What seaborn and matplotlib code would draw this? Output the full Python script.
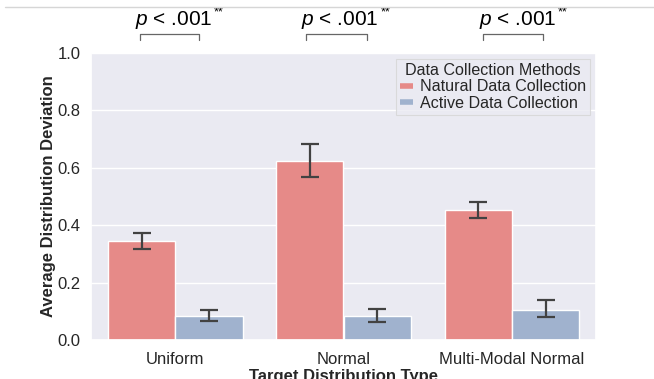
import matplotlib
matplotlib.use("Agg")
import matplotlib.pyplot as plt
from matplotlib.lines import Line2D
import seaborn as sns
import pandas as pd
import numpy as np

# ---- data ----
categories = ["Uniform", "Normal", "Multi-Modal Normal"]
methods = ["Natural Data Collection", "Active Data Collection"]
natural_mean = [0.345, 0.624, 0.452]
natural_lo = [0.318, 0.569, 0.426]
natural_hi = [0.372, 0.684, 0.482]
active_mean = [0.082, 0.085, 0.105]
active_lo = [0.067, 0.064, 0.079]
active_hi = [0.104, 0.109, 0.138]
p_main = ["p < .001", "p < .001", "p < .001"]
p_stars = ["**", "**", "**"]

colors = ["#E68A88", "#A0B2CE"]

sns.set_theme(style="darkgrid")
plt.rcParams["font.family"] = ["Liberation Sans", "DejaVu Sans"]
plt.rcParams["mathtext.fontset"] = "custom"
plt.rcParams["mathtext.rm"] = "Liberation Sans"
plt.rcParams["mathtext.it"] = "Liberation Sans:italic"
plt.rcParams["mathtext.bf"] = "Liberation Sans:bold"

df = pd.DataFrame({
    "Target Distribution Type": categories * 2,
    "Method": [methods[0]] * 3 + [methods[1]] * 3,
    "value": natural_mean + active_mean,
    "lo": natural_lo + active_lo,
    "hi": natural_hi + active_hi,
})

fig = plt.figure(figsize=(6.54, 3.79), dpi=100)
ax = fig.add_axes([91 / 654, 39 / 379, 505 / 654, 287 / 379])

sns.barplot(data=df, x="Target Distribution Type", y="value", hue="Method",
            hue_order=methods, order=categories, palette=colors,
            saturation=1, errorbar=None, ax=ax, legend=False)

# error bars from bar geometry
bars = [p for p in ax.patches if p.get_height() > 0]
for m_i, m in enumerate(methods):
    sub = df[df["Method"] == m].set_index("Target Distribution Type").loc[categories]
    for c_i, c in enumerate(categories):
        bar = bars[m_i * len(categories) + c_i]
        xc = bar.get_x() + bar.get_width() / 2
        v = sub.loc[c, "value"]
        ax.errorbar([xc], [v], yerr=[[v - sub.loc[c, "lo"]], [sub.loc[c, "hi"] - v]],
                    fmt="none", ecolor="#424242", elinewidth=1.6, capsize=6.5,
                    capthick=1.6, zorder=5)

ax.set_ylim(0, 1.0)
ax.set_xlim(-0.5, 2.5)
ax.set_yticks([0, 0.2, 0.4, 0.6, 0.8, 1.0])
ax.set_yticklabels(["0.0", "0.2", "0.4", "0.6", "0.8", "1.0"])
ax.tick_params(axis="x", labelsize=12, pad=3)
ax.tick_params(axis="y", labelsize=12, pad=1.5)
ax.set_ylabel("Average Distribution Deviation", fontsize=12, fontweight="bold", labelpad=1)
ax.set_xlabel("Target Distribution Type", fontsize=12, fontweight="bold", labelpad=1)

# legend
handles = [Line2D([0], [0], color=colors[i], lw=4, solid_capstyle="butt") for i in range(2)]
leg = ax.legend(handles, methods, title="Data Collection Methods", loc="upper right",
                bbox_to_anchor=(0.994, 0.992), borderaxespad=0.2, fontsize=11.6,
                title_fontsize=11.6, handlelength=0.8, handletextpad=0.4,
                labelspacing=0.1, borderpad=0.25, frameon=True, fancybox=False)
leg.get_frame().set_facecolor("#EAEAF2")
leg.get_frame().set_edgecolor("#D5D5D5")
leg.get_frame().set_linewidth(0.8)

# significance brackets
bracket_off = [(-0.208, 0.143), (-0.22, 0.137), (-0.173, 0.185)]
text_off = [-0.01, -0.02, 0.035]
for i in range(len(categories)):
    x0 = i + bracket_off[i][0]
    x1 = i + bracket_off[i][1]
    ax.plot([x0, x0, x1, x1], [1.045, 1.066, 1.066, 1.045], color="#666666",
            lw=0.9, clip_on=False)
    main = p_main[i].replace("p", r"$\it{p}$", 1)
    t = ax.text(i + text_off[i], 1.098, main, ha="center",
                va="baseline", fontsize=15, color="black", clip_on=False)
    ax.annotate(p_stars[i], xy=(1.0, 1.0), xycoords=t, xytext=(1, 2),
                textcoords="offset points", ha="left", va="top",
                fontsize=9, color="black", annotation_clip=False)

# thin rule at top of figure
fig.add_artist(Line2D([5 / 654, 1.0], [1 - 7 / 379, 1 - 7 / 379],
                      transform=fig.transFigure, color="#D6D6D6", lw=1))

fig.savefig("out.png", dpi=100)
